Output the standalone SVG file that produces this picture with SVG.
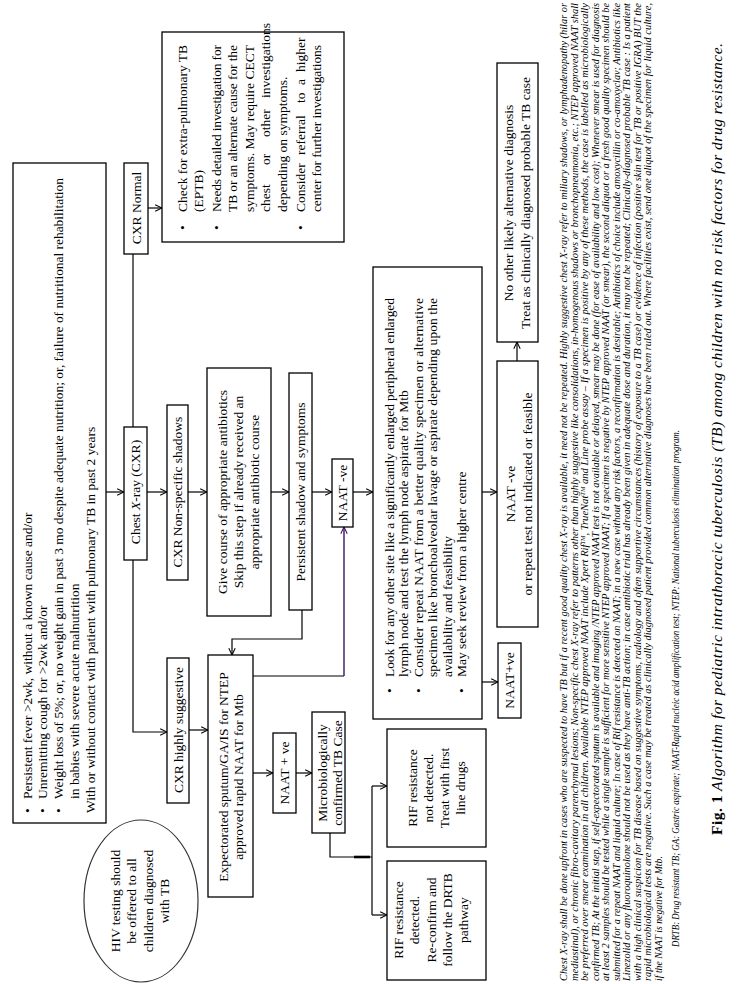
<svg xmlns="http://www.w3.org/2000/svg" width="746" height="984" viewBox="0 0 746 984">
<defs>
<style>
.box{fill:#fff;stroke:#000;stroke-width:1.3}
.t{font-family:"Liberation Serif","Times New Roman",serif;font-size:13.5px;fill:#000}
.m{text-anchor:middle}
.fn{font-family:"Liberation Serif","Times New Roman",serif;font-style:italic;font-size:9.8px;fill:#000}
.cap{font-family:"Liberation Serif","Times New Roman",serif;font-style:italic;font-size:15.5px;fill:#000}
.c{stroke:#000;stroke-width:1.2;fill:none}
</style>
<marker id="ah" viewBox="0 0 10 10" refX="9.5" refY="5" markerWidth="8" markerHeight="8" orient="auto" markerUnits="userSpaceOnUse"><path d="M1,1 L9.5,5 L1,9" fill="none" stroke="#000" stroke-width="1.3"/></marker>
<marker id="ahp" viewBox="0 0 10 10" refX="9.5" refY="5" markerWidth="8" markerHeight="8" orient="auto" markerUnits="userSpaceOnUse"><path d="M1,1 L9.5,5 L1,9" fill="none" stroke="#3d1360" stroke-width="1.3"/></marker>
</defs>
<rect width="746" height="984" fill="#fff"/>
<g transform="translate(0,984) rotate(-90)">

<g id="connectors">
<path class="c" d="M776,148 L776,162" marker-end="url(#ah)"/>
<path class="c" d="M730,133 L557,133"/>
<path class="c" d="M424,133 L252,133 L252,167" marker-end="url(#ah)"/>
<path class="c" d="M492,106 L492,124" marker-end="url(#ah)"/>
<path class="c" d="M492,147 L492,167" marker-end="url(#ah)"/>
<path class="c" d="M492,188 L492,207" marker-end="url(#ah)"/>
<path class="c" d="M492,271 L492,289" marker-end="url(#ah)"/>
<path class="c" d="M492,312 L492,332" marker-end="url(#ah)"/>
<path class="c" d="M492,353 L492,373" marker-end="url(#ah)"/>
<path class="c" d="M374,302 L345,302 L345,232 L329,232" marker-end="url(#ah)"/>
<path class="c" d="M308,253 L308,344"/>
<path d="M308,344 L457,344" fill="none" stroke="#3d1360" stroke-width="1.4" marker-end="url(#ahp)"/>
<path class="c" d="M254,189 L254,208" marker-end="url(#ah)"/>
<path class="c" d="M211,253 L211,273" marker-end="url(#ah)"/>
<path class="c" d="M211,296 L211,312" marker-end="url(#ah)"/>
<path class="c" d="M151,330 L127,330 L127,372"/>
<path d="M127,354 L127,370" stroke="#000" stroke-width="2.6"/>
<path class="c" d="M198,372 L69,372"/>
<path class="c" d="M198,372 L198,387" marker-end="url(#ah)"/>
<path class="c" d="M69,372 L69,387" marker-end="url(#ah)"/>
<path class="c" d="M492,482 L492,497" marker-end="url(#ah)"/>
<path class="c" d="M302,482 L302,498" marker-end="url(#ah)"/>
<path class="c" d="M623,517 L642,517" marker-end="url(#ah)"/>
</g>

<g id="symptoms">
<rect class="box" x="161" y="13" width="660" height="93"/>
<text class="t" x="171" y="31.5">•</text>
<text class="t" x="171" y="47">•</text>
<text class="t" x="171" y="62.5">•</text>
<text class="t" x="185" y="31.5">Persistent fever &gt;2wk, without a known cause  and/or</text>
<text class="t" x="185" y="47">Unremitting cough for &gt;2wk  and/or</text>
<text class="t" x="185" y="62.5" textLength="621" lengthAdjust="spacingAndGlyphs">Weight loss of 5%; or, no weight gain in past 3 mo despite adequate nutrition; or, failure of nutritional rehabilitation</text>
<text class="t" x="185" y="78.5">in babies with severe acute malnutrition</text>
<text class="t" x="171" y="94.5">With or without contact with patient with pulmonary TB in past 2 years</text>
</g>

<g id="hiv">
<ellipse cx="83" cy="141" rx="81" ry="57" fill="#fff" stroke="#333" stroke-width="1.2"/>
<text class="t m" x="83" y="119.5">HIV testing should</text>
<text class="t m" x="83" y="136">be offered to all</text>
<text class="t m" x="83" y="152.5">children diagnosed</text>
<text class="t m" x="83" y="169">with TB</text>
</g>

<g id="cxr_normal">
<rect class="box" x="730" y="124" width="91" height="24"/>
<text class="t m" x="776" y="140.5">CXR Normal</text>
</g>

<g id="eptb">
<rect class="box" x="742" y="162" width="210" height="182"/>
<text class="t" x="754" y="186.5">•</text>
<text class="t" x="754" y="220.5">•</text>
<text class="t" x="754" y="304.5">•</text>
<text class="t" x="772" y="186.5" textLength="167" lengthAdjust="spacing">Check for extra-pulmonary TB</text>
<text class="t" x="772" y="203">(EPTB)</text>
<text class="t" x="772" y="220.5" textLength="167" lengthAdjust="spacing">Needs detailed investigation for</text>
<text class="t" x="772" y="237" textLength="167" lengthAdjust="spacing">TB or an alternate cause for the</text>
<text class="t" x="772" y="253.5" textLength="167" lengthAdjust="spacing">symptoms. May require CECT</text>
<text class="t" y="270"><tspan x="772">chest</tspan><tspan x="819">or</tspan><tspan x="847">other</tspan><tspan x="886">investigations</tspan></text>
<text class="t" x="772" y="286.5">depending on symptoms.</text>
<text class="t" y="304.5"><tspan x="772">Consider</tspan><tspan x="829">referral</tspan><tspan x="881">to</tspan><tspan x="899">a</tspan><tspan x="912">higher</tspan></text>
<text class="t" x="772" y="321" textLength="167" lengthAdjust="spacing">center for further investigations</text>
</g>

<g id="cxr">
<rect class="box" x="424" y="124" width="133" height="23"/>
<text class="t m" x="492" y="140">Chest <tspan font-style="italic">X</tspan>-ray (CXR)</text>
</g>

<g id="cxr_nonspecific">
<rect class="box" x="404" y="167" width="175" height="21"/>
<text class="t m" x="492" y="182">CXR Non-specific shadows</text>
</g>

<g id="cxr_suggestive">
<rect class="box" x="181" y="167" width="145" height="22"/>
<text class="t m" x="254" y="183">CXR highly suggestive</text>
</g>

<g id="antibiotics">
<rect class="box" x="368" y="207" width="248" height="64"/>
<text class="t m" x="492" y="226.5">Give course of appropriate antibiotics</text>
<text class="t m" x="492" y="242.5">Skip this step if already received an</text>
<text class="t m" x="492" y="259">appropriate antibiotic course</text>
</g>

<g id="persistent">
<rect class="box" x="374" y="289" width="237" height="23"/>
<text class="t m" x="492" y="305">Persistent shadow and symptoms</text>
</g>

<g id="naat_neg_1">
<rect class="box" x="457" y="332" width="68" height="21"/>
<text class="t m" x="491" y="347">NAAT -ve</text>
</g>

<g id="sputum">
<rect class="box" x="87" y="208" width="242" height="45"/>
<text class="t m" x="207" y="227.5">Expectorated sputum/GA/IS for NTEP</text>
<text class="t m" x="207" y="242.5">approved rapid NAAT for Mtb</text>
</g>

<g id="naat_pos_1">
<rect class="box" x="171" y="273" width="80" height="23"/>
<text class="t m" x="211" y="289">NAAT + ve</text>
</g>

<g id="micro_confirmed">
<rect class="box" x="151" y="312" width="121" height="33"/>
<text class="t m" x="211" y="326.5">Microbiologically</text>
<text class="t m" x="211" y="341.5">confirmed TB Case</text>
</g>

<g id="rif_not_detected">
<rect class="box" x="137" y="387" width="118" height="99"/>
<text class="t m" x="196" y="416.5">RIF resistance</text>
<text class="t m" x="196" y="432.5">not detected.</text>
<text class="t m" x="196" y="448.5">Treat with first</text>
<text class="t m" x="196" y="464.5">line drugs</text>
</g>

<g id="rif_detected">
<rect class="box" x="4" y="387" width="119" height="99"/>
<text class="t m" x="64" y="402.5">RIF resistance</text>
<text class="t m" x="64" y="419">detected.</text>
<text class="t m" x="64" y="435.5">Re-confirm and</text>
<text class="t m" x="64" y="451.5">follow the DRTB</text>
<text class="t m" x="64" y="467.5">pathway</text>
</g>

<g id="look_other_site">
<rect class="box" x="265" y="373" width="452" height="109"/>
<text class="t" x="291" y="393.5">•</text>
<text class="t" x="291" y="422.5">•</text>
<text class="t" x="291" y="466">•</text>
<text class="t" x="307" y="393.5" textLength="379" lengthAdjust="spacing">Look for any other site like a significantly enlarged peripheral enlarged</text>
<text class="t" x="307" y="408">lymph node and test the lymph node aspirate for Mtb</text>
<text class="t" x="307" y="422.5" textLength="379" lengthAdjust="spacing">Consider repeat NAAT from a better quality specimen or alternative</text>
<text class="t" x="307" y="437" textLength="379" lengthAdjust="spacing">specimen like bronchoalveolar lavage or aspirate depending upon the</text>
<text class="t" x="307" y="451.5">availability and feasibility</text>
<text class="t" x="307" y="466">May seek review from a higher centre</text>
</g>

<g id="naat_pos_2">
<rect class="box" x="266" y="498" width="75" height="23"/>
<text class="t m" x="303.5" y="514">NAAT+ve</text>
</g>

<g id="naat_neg_2">
<rect class="box" x="357" y="497" width="266" height="41"/>
<text class="t m" x="490" y="514.5">NAAT -ve</text>
<text class="t m" x="490" y="531.5">or repeat test not indicated or feasible</text>
</g>

<g id="probable_tb">
<rect class="box" x="642" y="497" width="279" height="41"/>
<text class="t m" x="781" y="512.5">No other likely alternative diagnosis</text>
<text class="t m" x="781" y="529.5">Treat as clinically diagnosed probable TB case</text>
</g>

<g id="footnote">
<text class="fn" x="3" y="567" textLength="978" lengthAdjust="spacingAndGlyphs">Chest X-ray shall be done upfront in cases who are suspected to have TB but if a recent good quality chest X-ray is available, it need not be repeated. Highly suggestive chest X-ray refer to miliary shadows, or lymphadenopathy (hilar or</text>
<text class="fn" x="3" y="577.5" textLength="978" lengthAdjust="spacingAndGlyphs">mediastinal), or chronic fibro-cavitary parenchymal lesions; Non-specific chest X-ray refer to patterns other than highly suggestive like consolidations, in-homogenous shadows or bronchopneumonia, etc.; NTEP approved NAAT shall</text>
<text class="fn" x="3" y="588" textLength="978" lengthAdjust="spacingAndGlyphs">be preferred over smear examination in all children. Available NTEP approved NAAT include Xpert Rif<tspan font-size="6" dy="-3">TM</tspan><tspan dy="3">, TrueNat</tspan><tspan font-size="6" dy="-3">TM</tspan><tspan dy="3"> and Line probe assay – If a specimen is positive by any of these methods, the case is labelled as microbiologically</tspan></text>
<text class="fn" x="3" y="598.5" textLength="978" lengthAdjust="spacingAndGlyphs">confirmed TB; At the initial step, if self-expectorated sputum is available and imaging /NTEP approved NAAT test is not available or delayed, smear may be done (for ease of availability and low cost); Whenever smear is used for diagnosis</text>
<text class="fn" x="3" y="609" textLength="978" lengthAdjust="spacingAndGlyphs">at least 2 samples should be tested while a single sample is sufficient for more sensitive NTEP approved NAAT; If a specimen is negative by NTEP approved NAAT (or smear), the second aliquot or a fresh good quality specimen should be</text>
<text class="fn" x="3" y="619.5" textLength="978" lengthAdjust="spacingAndGlyphs">submitted for a repeat NAAT and liquid culture; In case of Rif resistance is detected on NAAT; in a new case without any risk factors, a reconfirmation is desirable; Antibiotics of choice include amoxycillin or co-amoxyclav; Antibiotics like</text>
<text class="fn" x="3" y="630" textLength="978" lengthAdjust="spacingAndGlyphs">Linezolid or any fluoroquinolone should not be used as they have anti-TB action; in case antibiotic trial has already been given in adequate dose and duration, it may not be repeated; Clinically-diagnosed probable TB case : Is a patient</text>
<text class="fn" x="3" y="640.5" textLength="978" lengthAdjust="spacingAndGlyphs">with a high clinical suspicion for TB disease based on suggestive symptoms, radiology and often supportive circumstances (history of exposure to a TB case) or evidence of infection (positive skin test for TB or positive IGRA) BUT the</text>
<text class="fn" x="3" y="651" textLength="978" lengthAdjust="spacingAndGlyphs">rapid microbiological tests are negative. Such a case may be treated as clinically diagnosed patient provided common alternative diagnoses have been ruled out. Where facilities exist, send one aliquot of the specimen for liquid culture,</text>
<text class="fn" x="3" y="661.5">if the NAAT is negative for Mtb.</text>
<text class="fn" x="37" y="679" textLength="517" lengthAdjust="spacingAndGlyphs">DRTB: Drug resistant TB; GA: Gastric aspirate; NAAT-Rapid nucleic acid amplification test; NTEP: National tuberculosis elimination program.</text>
<text class="cap" x="149" y="722" textLength="792" lengthAdjust="spacing"><tspan font-weight="bold" font-style="normal">Fig. 1</tspan> Algorithm for pediatric intrathoracic tuberculosis (TB) among children with no risk factors for drug resistance.</text>
</g>

</g>
</svg>
